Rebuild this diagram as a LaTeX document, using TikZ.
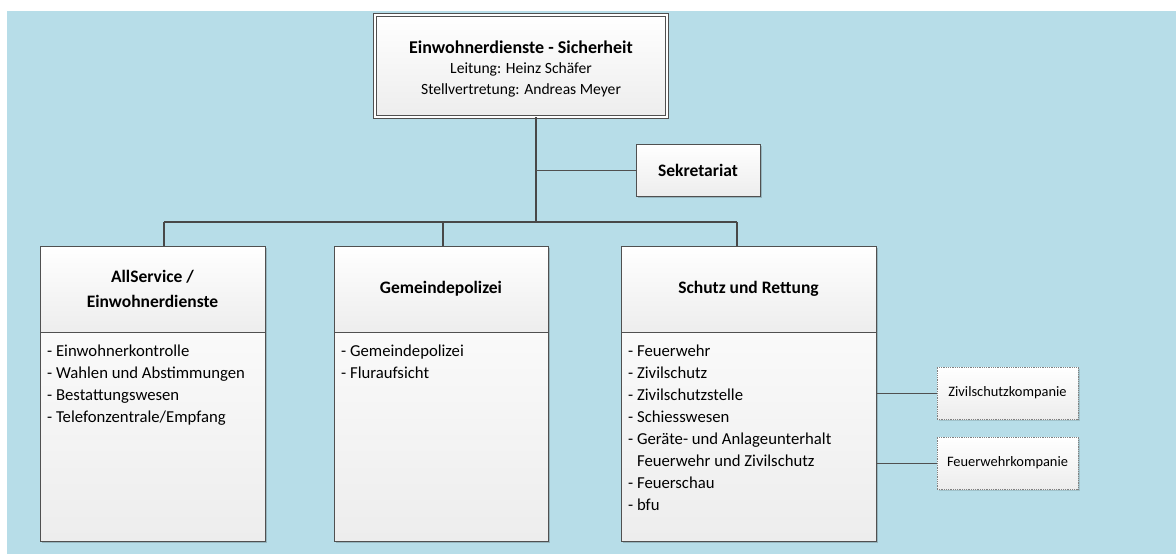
\documentclass[tikz,border=0pt]{standalone}
\usepackage{fontspec}
\setmainfont{Carlito}
\usetikzlibrary{shadows,calc}
\definecolor{bgblue}{RGB}{183,221,232}
\definecolor{edge}{RGB}{80,80,80}
\definecolor{boxlow}{RGB}{237,237,237}
\tikzset{
  orgbox/.style={draw=edge, line width=0.9pt, top color=white, bottom color=boxlow,
    inner sep=0pt, outer sep=0pt,
    drop shadow={shadow xshift=1.5pt, shadow yshift=-1.5pt, fill=black, opacity=0.18}},
  plainbox/.style={draw=edge, line width=0.9pt, top color=white, bottom color=boxlow,
    inner sep=0pt, outer sep=0pt},
  dotbox/.style={draw=gray, densely dotted, line width=0.8pt, top color=white, bottom color=boxlow,
    inner sep=0pt, outer sep=0pt,
    drop shadow={shadow xshift=1.5pt, shadow yshift=-1.5pt, fill=black, opacity=0.12}},
  conn/.style={draw=edge!90!black, line width=1.6pt},
  thin/.style={draw=edge, line width=0.9pt},
  head/.style={font=\bfseries\fontsize{17.5}{25}\selectfont, align=center},
  list/.style={font=\fontsize{16.7}{22}\selectfont, align=left, anchor=north west, inner sep=0pt},
  small/.style={font=\fontsize{14.4}{16}\selectfont}
}
\begin{document}
\begin{tikzpicture}[x=1pt,y=-1pt]
\useasboundingbox (0,0) rectangle (1176,554);
\fill[bgblue] (7,11) rectangle (1176,554);

% top box
\node[orgbox, double=white, double distance=2.2pt, line width=0.9pt, minimum width=292pt, minimum height=102pt] (top) at (521,66) {};
\node[align=center, font=\fontsize{15.6}{20.5}\selectfont, inner sep=0pt] (toptext) at (521,69)
  {{\bfseries\fontsize{18}{20.5}\selectfont Einwohnerdienste - Sicherheit}\\
   Leitung: Heinz Schäfer\\
   Stellvertretung: Andreas Meyer};

% Sekretariat
\node[orgbox, minimum width=124pt, minimum height=52pt, head] (sek) at (698,170) {Sekretariat};

% three departments
\node[orgbox, minimum width=225pt, minimum height=295pt] (d1) at (152.5,393.5) {};
\node[plainbox, minimum width=225pt, minimum height=86pt, head] (h1) at (152.5,289) {AllService /\\Einwohnerdienste};

\node[orgbox, minimum width=214pt, minimum height=295pt] (d2) at (441,393.5) {};
\node[plainbox, minimum width=214pt, minimum height=86pt, head] (h2) at (441,289) {Gemeindepolizei};

\node[orgbox, minimum width=255pt, minimum height=295pt] (d3) at (748.5,393.5) {};
\node[plainbox, minimum width=255pt, minimum height=86pt, head] (h3) at (748.5,289) {Schutz und Rettung};

% lists
\node[list] (l1) at ($(h1.south west)+(7,13)$) {- Einwohnerkontrolle\\- Wahlen und Abstimmungen\\- Bestattungswesen\\- Telefonzentrale/Empfang};
\node[list] (l2) at ($(h2.south west)+(7,13)$) {- Gemeindepolizei\\- Fluraufsicht};
\node[list] (l3) at ($(h3.south west)+(7,13)$) {- Feuerwehr\\- Zivilschutz\\- Zivilschutzstelle\\- Schiesswesen\\- Geräte- und Anlageunterhalt\\\hphantom{-}\ Feuerwehr und Zivilschutz\\- Feuerschau\\- bfu};

% Kompanien
\node[dotbox, minimum width=141pt, minimum height=52pt, small] (zk) at (1007.5,393) {Zivilschutzkompanie};
\node[dotbox, minimum width=141pt, minimum height=52pt, small] (fk) at (1007.5,463) {Feuerwehrkompanie};

% connectors
\coordinate (j) at (536,222);
\coordinate (b1) at (164,222);
\coordinate (b2) at (443,222);
\coordinate (b3) at (737,222);
\draw[conn] (top.south -| j) -- (j);
\draw[conn] (b1) -- (b3);
\draw[conn] (b1) -- (b1 |- h1.north);
\draw[conn] (b2) -- (b2 |- h2.north);
\draw[conn] (b3) -- (b3 |- h3.north);
\draw[thin] (j |- sek.west) -- (sek.west);
\draw[thin] (d3.east |- zk.west) -- (zk.west);
\draw[thin] (d3.east |- fk.west) -- (fk.west);
\end{tikzpicture}
\end{document}
